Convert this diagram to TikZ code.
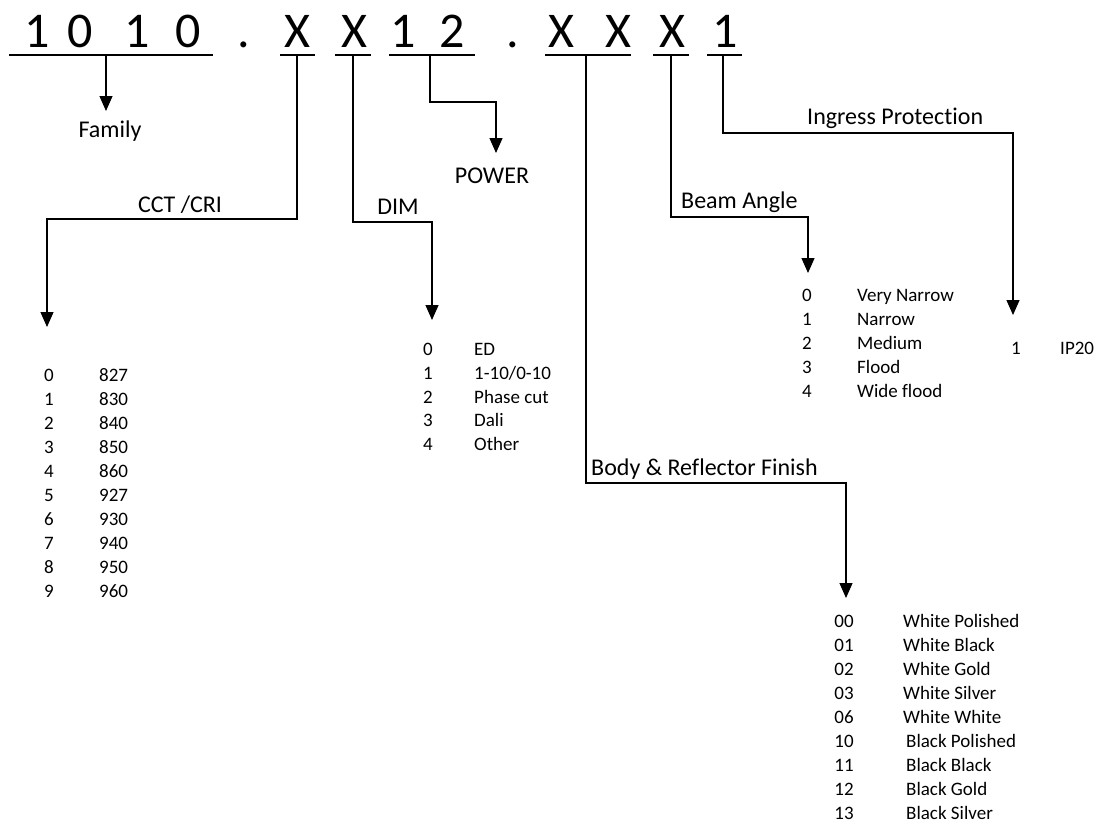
\documentclass[tikz,border=0pt]{standalone}
\usepackage{fontspec}
\setmainfont{Carlito}[Ligatures=NoCommon]
\usetikzlibrary{arrows.meta}
\begin{document}
\begin{tikzpicture}[x=1pt,y=-1pt,
  codechar/.style={anchor=base,inner sep=0pt,font=\fontsize{50}{60}\selectfont},
  lbl/.style={anchor=base,inner sep=0pt,font=\fontsize{24}{29}\selectfont},
  lblw/.style={anchor=base west,inner sep=0pt,font=\fontsize{24}{29}\selectfont},
  itemcode/.style={anchor=base,inner sep=0pt,font=\fontsize{19}{24}\selectfont},
  itemtext/.style={anchor=base west,inner sep=0pt,font=\fontsize{19}{24}\selectfont},
  uline/.style={line width=1.2pt},
  conn/.style={line width=1.2pt,-{Triangle[width=13pt,length=15pt]}},
]
\useasboundingbox (0,0) rectangle (1103,823);

% ---- code characters
\foreach \c/\x/\n in {1/37/c1,0/80/c2,1/137/c3,0/188/c4,./244/d1,X/297/c5,X/354/c6,1/403/c7,2/452/c8,./513/d2,X/561/c9,X/618/c10,X/672/c11,1/725/c12}
  \node[codechar] (\n) at (\x,47) {\c};

% ---- underlines
\draw[uline] (9,55) -- (213,55);
\draw[uline] (280,55) -- (315,55);
\draw[uline] (335,55) -- (371,55);
\draw[uline] (389,55) -- (475,55);
\draw[uline] (545,55) -- (631,55);
\draw[uline] (653,55) -- (689,55);
\draw[uline] (707,55) -- (742,55);

% ---- connector points
\coordinate (famS) at (106,55);  \coordinate (famT) at (106,111);
\coordinate (cctS) at (297,55);  \coordinate (cctK) at (47,219);   \coordinate (cctT) at (47,327);
\coordinate (dimS) at (353,55);  \coordinate (dimK) at (432,222);  \coordinate (dimT) at (432,320);
\coordinate (pwrS) at (430,55);  \coordinate (pwrK) at (496,102);  \coordinate (pwrT) at (496,153);
\coordinate (bodS) at (586,55);  \coordinate (bodK) at (846,483);  \coordinate (bodT) at (846,598);
\coordinate (bmS)  at (671,55);  \coordinate (bmK)  at (808,217);  \coordinate (bmT)  at (808,273);
\coordinate (ipS)  at (723,55);  \coordinate (ipK)  at (1013,133); \coordinate (ipT)  at (1013,315);

\draw[conn] (famS) -- (famT);
\draw[conn] (cctS) |- (cctK) -- (cctT);
\draw[conn] (dimS) |- (dimK) -- (dimT);
\draw[conn] (pwrS) |- (pwrK) -- (pwrT);
\draw[conn] (bodS) |- (bodK) -- (bodT);
\draw[conn] (bmS)  |- (bmK)  -- (bmT);
\draw[conn] (ipS)  |- (ipK)  -- (ipT);

% ---- labels
\node[lbl]  (lfam) at (110,137) {Family};
\node[lbl]  (lcct) at (180,212) {CCT /CRI};
\node[lbl]  (ldim) at (398,214) {DIM};
\node[lbl]  (lpwr) at (492,183) {POWER};
\node[lblw] (lbm)  at (681,208) {Beam Angle};
\node[lblw] (lip)  at (807,124) {Ingress Protection};
\node[lblw] (lbod) at (591,475) {Body \& Reflector Finish};

% ---- CCT list
\foreach \k/\a/\b in {0/0/827,1/1/830,2/2/840,3/3/850,4/4/860,5/5/927,6/6/930,7/7/940,8/8/950,9/9/960}{
  \node[itemcode] (cctc\k) at (49,381.5+24*\k) {\a};
  \node[itemtext] (cctv\k) at (99,381.5+24*\k) {\b};
}
% ---- DIM list
\node[itemcode] (dimc0) at (428,355.5) {0}; \node[itemtext] (dimv0) at (474,355.5) {ED};
\node[itemcode] (dimc1) at (428,379.3) {1}; \node[itemtext] (dimv1) at (474,379.3) {1-10/0-10};
\node[itemcode] (dimc2) at (428,403.1) {2}; \node[itemtext] (dimv2) at (474,403.1) {Phase cut};
\node[itemcode] (dimc3) at (428,426.9) {3}; \node[itemtext] (dimv3) at (474,426.9) {Dali};
\node[itemcode] (dimc4) at (428,450.7) {4}; \node[itemtext] (dimv4) at (474,450.7) {Other};
% ---- Beam list
\foreach \k/\a/\b in {0/0/Very Narrow,1/1/Narrow,2/2/Medium,3/3/Flood,4/4/Wide flood}{
  \node[itemcode] (bmc\k) at (807,301.5+24*\k) {\a};
  \node[itemtext] (bmv\k) at (857,301.5+24*\k) {\b};
}
% ---- IP list
\node[itemcode] (ipc0) at (1016,354.5) {1};
\node[itemtext] (ipv0) at (1060,354.5) {IP20};
% ---- Body list
\foreach \k/\a/\b/\x in {0/00/White Polished/903,1/01/White Black/903,2/02/White Gold/903,3/03/White Silver/903,4/06/White White/903,5/10/Black Polished/906,6/11/Black Black/906,7/12/Black Gold/906,8/13/Black Silver/906}{
  \node[itemcode] (bodc\k) at (844,627.5+24*\k) {\a};
  \node[itemtext] (bodv\k) at (\x,627.5+24*\k) {\b};
}
\end{tikzpicture}
\end{document}
